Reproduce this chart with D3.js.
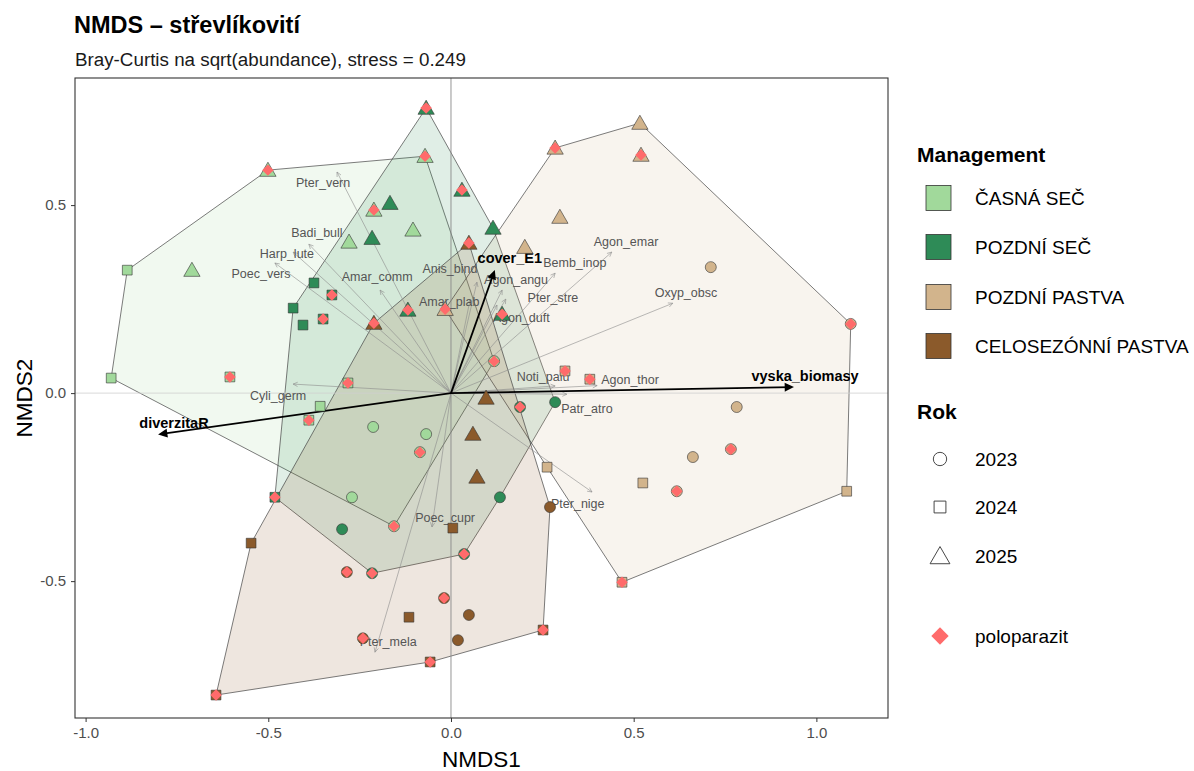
<!DOCTYPE html>
<html><head><meta charset="utf-8">
<script src="https://cdn.jsdelivr.net/npm/d3@7"></script>
<style>body{margin:0;background:#fff;font-family:"Liberation Sans",Arial,sans-serif}</style>
</head><body><svg id="c" width="1194" height="771"></svg>
<script>
// ---------- DATA ----------
const groups = ["ČASNÁ SEČ","POZDNÍ SEČ","POZDNÍ PASTVA","CELOSEZÓNNÍ PASTVA"];
const groupColors = ["#a1d99b","#2e8b57","#d2b48c","#8b5a2b"];
const years = ["2023","2024","2025"];
// site scores: NMDS1, NMDS2, group index, year, poloparazit (1/0)
const siteX = [
 -0.930,-0.886,-0.709,-0.279,-0.104,-0.358,-0.213,-0.068,-0.271,-0.501,-0.071,-0.211,0.118,-0.156,-0.085,-0.605,-0.282,-0.389,
 -0.167,-0.216,0.115,-0.375,-0.432,-0.405,0.285,0.134,-0.298,-0.068,0.030,-0.118,-0.482,-0.216,0.036,-0.326,-0.350,0.189,
 0.517,0.298,0.202,0.711,0.782,0.662,0.525,1.083,0.263,0.285,0.520,-0.016,1.094,0.766,0.618,0.468,0.312,0.380,
 0.096,0.060,0.071,0.271,0.005,0.049,-0.115,0.019,-0.547,-0.211,0.140,-0.285,-0.019,-0.241,-0.643,-0.057,0.252,0.049];
const siteY = [
 0.040,0.327,0.327,0.402,0.434,-0.035,-0.090,-0.109,-0.277,0.593,0.630,0.487,0.085,-0.354,-0.157,0.043,0.027,-0.072,
 0.505,0.412,0.439,0.293,0.226,0.181,-0.024,-0.277,-0.362,0.758,0.540,0.221,-0.277,-0.479,-0.428,0.261,0.197,-0.037,
 0.718,0.468,0.388,0.335,-0.037,-0.170,-0.239,-0.261,-0.197,0.652,0.633,0.223,0.184,-0.149,-0.261,-0.503,0.059,0.037,
 -0.013,-0.109,-0.223,-0.303,-0.359,-0.590,-0.596,-0.657,-0.399,0.186,0.210,-0.476,-0.545,-0.652,-0.803,-0.715,-0.630,0.399];
const siteGroup = [
 0,0,0,0,0,0,0,0,0,0,0,0,0,0,0,0,0,0,
 1,1,1,1,1,1,1,1,1,1,1,1,1,1,1,1,1,1,
 2,2,2,2,2,2,2,2,2,2,2,2,2,2,2,2,2,2,
 3,3,3,3,3,3,3,3,3,3,1,3,3,3,3,3,3,3];
const siteYear = [
 "2024","2024","2025","2025","2025","2024","2023","2023","2023","2025","2025","2025","2023","2023","2023","2024","2024","2024",
 "2025","2025","2025","2024","2024","2024","2023","2023","2023","2025","2025","2025","2024","2023","2023","2024","2024","2023",
 "2025","2025","2025","2023","2023","2023","2024","2024","2024","2025","2025","2025","2023","2023","2023","2024","2024","2024",
 "2025","2025","2025","2023","2024","2023","2024","2023","2024","2025","2025","2023","2023","2023","2024","2024","2024","2025"];
const sitePP = [
 0,0,0,0,0,0,0,0,0,1,1,1,1,1,1,1,1,1,
 0,0,0,0,0,0,0,0,0,1,1,1,1,1,1,1,1,1,
 0,0,0,0,0,0,0,0,0,1,1,1,1,1,1,1,1,1,
 0,0,0,0,0,0,0,0,0,1,1,1,1,1,1,1,1,1];
// species arrows (tip) and label positions
const spNames = ["Pter_vern","Badi_bull","Harp_lute","Poec_vers","Amar_comm","Anis_bind","Amar_plab","Agon_angu","Agon_duft","Pter_stre","Bemb_inop","Agon_emar","Oxyp_obsc","Noti_palu","Agon_thor","Patr_atro","Cyli_germ","Pter_nige","Poec_cupr","Pter_mela"];
const spX  = [-0.312,-0.389,-0.432,-0.482,-0.194,0.071,0.052,0.140,0.126,0.150,0.285,0.440,0.607,0.285,0.400,0.317,-0.432,0.386,-0.052,-0.208];
const spY  = [0.588,0.396,0.375,0.346,0.274,0.295,0.247,0.274,0.234,0.250,0.319,0.375,0.239,0.019,0.020,-0.003,0.024,-0.263,-0.356,-0.689];
const spLX = [-0.350,-0.367,-0.449,-0.520,-0.202,-0.003,-0.005,0.178,0.192,0.279,0.339,0.479,0.643,0.252,0.490,0.372,-0.473,0.347,-0.016,-0.172];
const spLY = [0.561,0.426,0.372,0.319,0.309,0.332,0.242,0.301,0.202,0.253,0.348,0.402,0.266,0.045,0.035,-0.040,-0.008,-0.295,-0.332,-0.662];
// environmental vectors
const envNames = ["cover_E1","vyska_biomasy","diverzitaR"];
const envX  = [0.118,0.933,-0.796];
const envY  = [0.322,0.016,-0.109];
const envLX = [0.161,0.969,-0.758];
const envLY = [0.359,0.045,-0.080];
const xTicks = [-1.0,-0.5,0.0,0.5,1.0];
const yTicks = [-0.5,0.0,0.5];
const ppColor = "#ff6b6b";

// ---------- CHART ----------
const svg = d3.select("#c");
const L=75,R=888,T=78,B=718;
const x = d3.scaleLinear().domain([-1.029,1.196]).range([L,R]);
const y = d3.scaleLinear().domain([-0.864,0.838]).range([B,T]);
const col = d3.scaleOrdinal().domain(groups).range(groupColors);

svg.append("text").attr("x",74).attr("y",33).attr("font-size",23.5).attr("font-weight","bold").text("NMDS – střevlíkovití");
svg.append("text").attr("x",75).attr("y",66).attr("font-size",18.8).attr("fill","#1a1a1a").text("Bray-Curtis na sqrt(abundance), stress = 0.249");

svg.append("clipPath").attr("id","pc").append("rect").attr("x",L).attr("y",T).attr("width",R-L).attr("height",B-T);
const g = svg.append("g").attr("clip-path","url(#pc)");

const sites = siteX.map((v,i)=>({x:v,y:siteY[i],g:groups[siteGroup[i]],yr:siteYear[i],pp:sitePP[i]}));

// hulls
groups.forEach(gr=>{
  const pts = sites.filter(s=>s.g===gr).map(s=>[x(s.x),y(s.y)]);
  const h = d3.polygonHull(pts);
  g.append("path").attr("d","M"+h.join("L")+"Z").attr("fill",col(gr)).attr("fill-opacity",0.15)
   .attr("stroke","#444").attr("stroke-width",0.7);
});
// zero lines
g.append("line").attr("x1",L).attr("x2",R).attr("y1",y(0)).attr("y2",y(0)).attr("stroke","#cfcfcf").attr("stroke-width",0.8);
g.append("line").attr("x1",x(0)).attr("x2",x(0)).attr("y1",T).attr("y2",B).attr("stroke","#8a8a8a").attr("stroke-width",0.9);

function arrow(sel,x0,y0,x1,y1,color,w,head,filled){
  sel.append("line").attr("x1",x0).attr("y1",y0).attr("x2",x1).attr("y2",y1).attr("stroke",color).attr("stroke-width",w);
  const a=Math.atan2(y1-y0,x1-x0), s=0.45;
  const p1=[x1-head*Math.cos(a-s),y1-head*Math.sin(a-s)], p2=[x1-head*Math.cos(a+s),y1-head*Math.sin(a+s)];
  if(filled) sel.append("path").attr("d",`M${p1}L${x1},${y1}L${p2}Z`).attr("fill",color).attr("stroke",color).attr("stroke-width",w);
  else sel.append("path").attr("d",`M${p1}L${x1},${y1}L${p2}`).attr("fill","none").attr("stroke",color).attr("stroke-width",w);
}
// species arrows
spNames.forEach((n,i)=>arrow(g,x(0),y(0),x(spX[i]),y(spY[i]),"#8c8c8c",0.6,5,false));
spNames.forEach((n,i)=>g.append("text").attr("x",x(spLX[i])).attr("y",y(spLY[i])).attr("dy","0.35em")
  .attr("text-anchor","middle").attr("font-size",12.5).attr("fill","#555").text(n));
// env arrows
envNames.forEach((n,i)=>arrow(g,x(0),y(0),x(envX[i]),y(envY[i]),"#000",1.8,7,true));
envNames.forEach((n,i)=>g.append("text").attr("x",x(envLX[i])).attr("y",y(envLY[i])).attr("dy","0.35em")
  .attr("text-anchor","middle").attr("font-size",14.5).attr("font-weight","bold").attr("fill","#000").text(n));

// points
const sym = {"2023":d3.symbolCircle,"2024":d3.symbolSquare,"2025":d3.symbolTriangle};
const size = {"2023":95,"2024":95,"2025":115};
g.selectAll("path.pt").data(sites).join("path").attr("class","pt")
 .attr("transform",d=>`translate(${x(d.x)},${y(d.y)+(d.yr==="2025"?1.5:0)})`)
 .attr("d",d=>d3.symbol(sym[d.yr],size[d.yr])())
 .attr("fill",d=>col(d.g)).attr("stroke","#333").attr("stroke-width",0.6);
g.selectAll("path.pp").data(sites.filter(s=>s.pp)).join("path").attr("class","pp")
 .attr("transform",d=>`translate(${x(d.x)},${y(d.y)}) rotate(45)`)
 .attr("d",d3.symbol(d3.symbolSquare,66)()).attr("fill",ppColor);

// panel border
svg.append("rect").attr("x",L).attr("y",T).attr("width",R-L).attr("height",B-T).attr("fill","none").attr("stroke","#333").attr("stroke-width",1.1);

// axes
const xa = svg.append("g").attr("transform",`translate(0,${B})`).call(d3.axisBottom(x).tickValues(xTicks).tickSize(4).tickPadding(5).tickSizeOuter(0));
const ya = svg.append("g").attr("transform",`translate(${L},0)`).call(d3.axisLeft(y).tickValues(yTicks).tickSize(4).tickPadding(5).tickSizeOuter(0));
[xa,ya].forEach(a=>{a.select(".domain").remove();a.selectAll("line").attr("stroke","#333");
  a.selectAll("text").attr("font-size",15).attr("fill","#4d4d4d").attr("font-family","Liberation Sans, Arial, sans-serif");});
xa.selectAll("text").text(d=>d.toFixed(1));
ya.selectAll("text").text(d=>d.toFixed(1));
svg.append("text").attr("x",(L+R)/2).attr("y",767).attr("text-anchor","middle").attr("font-size",22.5).text("NMDS1");
svg.append("text").attr("transform",`translate(32,${(T+B)/2}) rotate(-90)`).attr("text-anchor","middle").attr("font-size",22.5).text("NMDS2");

// legend
const lg = svg.append("g");
lg.append("text").attr("x",917).attr("y",162).attr("font-size",21).attr("font-weight","bold").text("Management");
const keyY=[198,247,297,346];
groups.forEach((gr,i)=>{
  lg.append("rect").attr("x",926).attr("y",keyY[i]-12.5).attr("width",25).attr("height",25).attr("fill",col(gr)).attr("stroke","#333").attr("stroke-width",0.8);
  lg.append("text").attr("x",975).attr("y",keyY[i]).attr("dy","0.36em").attr("font-size",19).text(gr);
});
lg.append("text").attr("x",917).attr("y",419).attr("font-size",21).attr("font-weight","bold").text("Rok");
const yrY=[459,507,556];
years.forEach((yr,i)=>{
  lg.append("path").attr("transform",`translate(940,${yrY[i]+(i===2?2:0)})`).attr("d",d3.symbol(sym[yr],i===2?170:140)())
    .attr("fill","none").attr("stroke","#333").attr("stroke-width",0.9);
  lg.append("text").attr("x",975).attr("y",yrY[i]).attr("dy","0.36em").attr("font-size",19).text(yr);
});
lg.append("path").attr("transform","translate(940,636) rotate(45)").attr("d",d3.symbol(d3.symbolSquare,150)()).attr("fill",ppColor);
lg.append("text").attr("x",975).attr("y",636).attr("dy","0.36em").attr("font-size",19).text("poloparazit");
</script></body></html>
